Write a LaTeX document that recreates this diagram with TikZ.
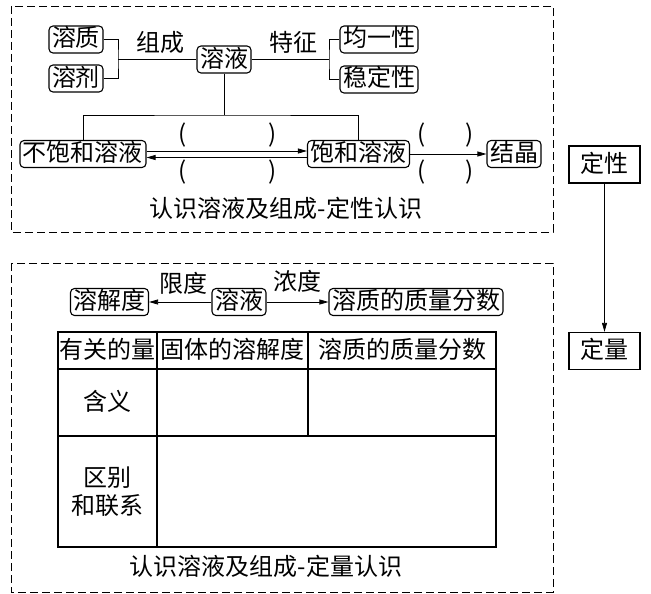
\documentclass[tikz,border=0pt]{standalone}
\usepackage{fontspec}
\setmainfont{Noto Sans CJK SC}
\usetikzlibrary{arrows.meta}
\begin{document}
\begin{tikzpicture}[x=1pt,y=-1pt,
  font=\fontsize{24}{28}\selectfont,
  rbox/.style={draw,line width=1.1pt,rounded corners=4pt,inner xsep=3pt,inner ysep=0pt,minimum height=27pt,text height=19pt,text depth=4pt},
  sbox/.style={draw,line width=1.3pt,minimum width=71pt,minimum height=37pt,inner sep=0pt,text height=19pt,text depth=4pt},
  lbl/.style={inner sep=0pt,text height=19pt,text depth=4pt},
  conn/.style={line width=0.8pt},
  arr/.style={line width=0.8pt,-{Triangle[length=9pt,width=5pt]}},
  frame/.style={line width=0.8pt,dash pattern=on 8pt off 4pt},
  grid/.style={line width=1.1pt}
]
\useasboundingbox (0,0) rectangle (651,594);
% frames
\draw[frame] (11,6) rectangle (553,232);
\draw[frame] (11,263) rectangle (553,592);

% top part
\node[rbox] (rz) at (76,39.5) {溶质};
\node[rbox] (rj) at (76,78.5) {溶剂};
\node[rbox] (ry) at (224,59.5) {溶液};
\node[rbox] (jy) at (379,39.5) {均一性};
\node[rbox] (wd) at (379,79.5) {稳定性};
\node[lbl] (zc) at (160,44) {组成};
\node[lbl] (tz) at (293,44) {特征};
\coordinate (bl) at (118,59.5);
\coordinate (br) at (329,59.5);
\draw[conn] (rz.east) -| (bl) |- (rj.east);
\draw[conn] (bl) -- (ry.west);
\draw[conn] (jy.west) -| (br) |- (wd.west);
\draw[conn] (ry.east) -- (br);

\node[rbox] (bbh) at (83,154) {不饱和溶液};
\node[rbox] (bh) at (358.5,154) {饱和溶液};
\node[rbox] (jj) at (514,154) {结晶};
\coordinate (jn) at (224,115);
\draw[conn] (ry.south) -- (jn);
\draw[conn] (bbh.north) |- (jn) -| (bh.north);
\draw[arr] ([yshift=3pt]bbh.east) -- ([yshift=3pt]bh.west);
\draw[arr] ([yshift=-3.5pt]bh.west) -- ([yshift=-3.5pt]bbh.east);
\draw[arr] (bh.east) -- (jj.west);
\node[lbl] (p1) at (183,135) {(};
\node[lbl] (p2) at (273,135) {)};
\node[lbl] (p3) at (183,172) {(};
\node[lbl] (p4) at (273,172) {)};
\node[lbl] (p5) at (422,135) {(};
\node[lbl] (p6) at (470,135) {)};
\node[lbl] (p7) at (422,172) {(};
\node[lbl] (p8) at (470,172) {)};
\node[lbl] (cap1) at (286,210) {认识溶液及组成-定性认识};

% right side
\node[sbox] (dx) at (604.5,164.5) {定性};
\node[sbox] (dl) at (604.5,351) {定量};
\draw[arr] (dx.south) -- (dl.north);

% bottom part
\node[rbox] (rjd) at (109.5,302) {溶解度};
\node[rbox] (ry2) at (239,302) {溶液};
\node[rbox] (zl) at (416,302) {溶质的质量分数};
\node[lbl] (xd) at (183,285) {限度};
\node[lbl] (nd) at (297,283) {浓度};
\draw[arr] (ry2.west) -- (rjd.east);
\draw[arr] (ry2.east) -- (zl.west);

% table
\draw[grid] (58,332) rectangle (496,547);
\draw[grid] (58,369) -- (496,369);
\draw[grid] (58,436) -- (496,436);
\draw[grid] (157,332) -- (157,547);
\draw[grid] (308,332) -- (308,436);
\node[lbl] (h1) at (107.5,350.5) {有关的量};
\node[lbl] (h2) at (232.5,350.5) {固体的溶解度};
\node[lbl] (h3) at (402,350.5) {溶质的质量分数};
\node[lbl] (r1) at (107.5,402.5) {含义};
\node[inner sep=0pt,align=center] (r2) at (107.5,491.5) {区别\\和联系};
\node[lbl] (cap2) at (266,568) {认识溶液及组成-定量认识};
\end{tikzpicture}
\end{document}
